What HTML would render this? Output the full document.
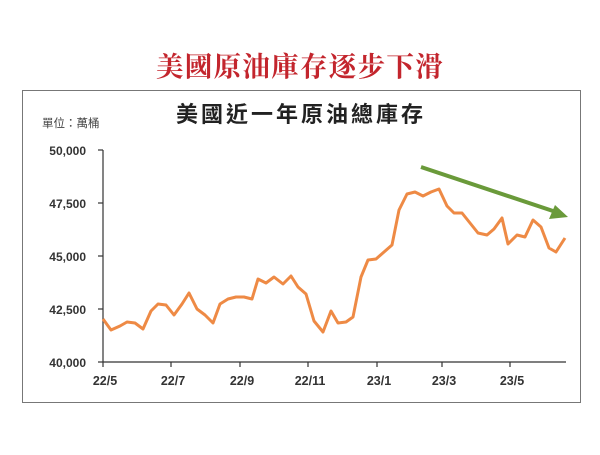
<!DOCTYPE html>
<html><head><meta charset="utf-8"><style>
body{margin:0;background:#fff;width:600px;height:450px;overflow:hidden}
</style></head><body>
<svg width="600" height="450" xmlns="http://www.w3.org/2000/svg">
<text x="300" y="76" text-anchor="middle" font-family="'Noto Serif CJK SC','Liberation Serif',serif" font-weight="bold" font-size="27.5" fill="#c3252d" letter-spacing="1.3">美國原油庫存逐步下滑</text>
<rect x="22.5" y="90.5" width="558" height="312" fill="#fff" stroke="#777" stroke-width="1"/>
<text x="42" y="127" font-family="'Liberation Sans','Noto Sans CJK TC',sans-serif" font-size="11.5" fill="#444">單位：萬桶</text>
<text x="301" y="122" text-anchor="middle" font-family="'Liberation Sans','Noto Sans CJK TC',sans-serif" font-weight="bold" font-size="22" fill="#222" letter-spacing="3">美國近一年原油總庫存</text>
<g font-family="'Liberation Sans',sans-serif" font-size="12" fill="#333" text-anchor="end" font-weight="600">
<text x="86" y="155">50,000</text>
<text x="86" y="208">47,500</text>
<text x="86" y="261">45,000</text>
<text x="86" y="314">42,500</text>
<text x="86" y="367">40,000</text>
</g>
<g stroke="#333" stroke-width="1.2">
<line x1="103" y1="150" x2="103" y2="362"/>
<line x1="103" y1="362" x2="566" y2="362"/>
<line x1="98" y1="150" x2="103" y2="150"/><line x1="98" y1="203" x2="103" y2="203"/><line x1="98" y1="256" x2="103" y2="256"/><line x1="98" y1="309" x2="103" y2="309"/><line x1="98" y1="362" x2="103" y2="362"/>
<line x1="103" y1="362" x2="103" y2="367"/><line x1="171" y1="362" x2="171" y2="367"/><line x1="240" y1="362" x2="240" y2="367"/><line x1="308" y1="362" x2="308" y2="367"/><line x1="377" y1="362" x2="377" y2="367"/><line x1="442" y1="362" x2="442" y2="367"/><line x1="510" y1="362" x2="510" y2="367"/>
</g>
<g font-family="'Liberation Sans',sans-serif" font-size="12.5" font-weight="bold" fill="#333" text-anchor="middle">
<text x="105" y="385">22/5</text><text x="173" y="385">22/7</text><text x="242" y="385">22/9</text><text x="310" y="385">22/11</text><text x="379" y="385">23/1</text><text x="444" y="385">23/3</text><text x="512" y="385">23/5</text>
</g>
<polyline fill="none" stroke="#ee8a45" stroke-width="3" stroke-linejoin="round" points="103,319 111,330 120,326 127,322 135,323 143,329 151,311 158,304 166,305 174,315 182,304 189,293 197,309 205,315 213,323 220,304 228,299 236,297 244,297 252,299 258,279 266,283 274,277 283,284 291,276 298,287 306,294 314,321 323,332 331,311 338,323 346,322 353,317 361,277 368,260 376,259 384,252 392,245 399,210 407,194 415,192 423,196 431,192 439,189 447,206 454,213 462,213 470,223 478,233 487,235 494,229 502,218 508,244 517,235 525,237 533,220 541,227 549,248 556,252 565,238"/>
<line x1="421" y1="167" x2="556" y2="212" stroke="#6a9a3a" stroke-width="4"/>
<polygon points="568,217 549,219 555,205" fill="#6a9a3a"/>
</svg>
</body></html>
